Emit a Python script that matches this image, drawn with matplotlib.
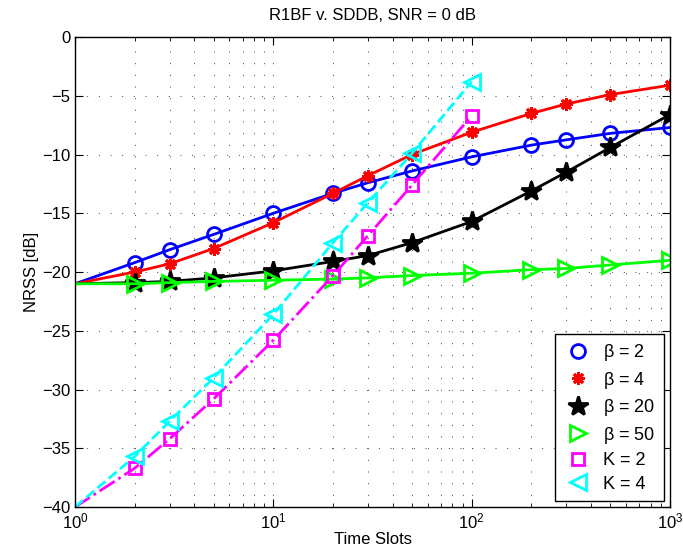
import numpy as np
import matplotlib.pyplot as plt
from matplotlib.ticker import LogLocator, NullFormatter

plt.rcParams['font.family'] = ['Liberation Sans', 'DejaVu Sans']

# time slots where markers sit
slots_beta = [2, 3, 5, 10, 20, 30, 50, 100, 200, 300, 500, 1000]
slots_k = [2, 3, 5, 10, 20, 30, 50, 100]

# NRSS [dB]
beta2 = [-19.2, -18.1, -16.8, -15.0, -13.3, -12.4, -11.4, -10.2, -9.2, -8.75, -8.2, -7.7]
beta4 = [-20.0, -19.3, -18.0, -15.8, -13.3, -11.8, -10.0, -8.1, -6.5, -5.7, -4.9, -4.1]
beta20 = [-20.9, -20.8, -20.5, -19.9, -19.1, -18.6, -17.5, -15.7, -13.1, -11.5, -9.4, -6.6]
beta50 = [-21.0, -20.9, -20.8, -20.7, -20.6, -20.5, -20.3, -20.1, -19.8, -19.7, -19.4, -19.0]
k2 = [-36.7, -34.2, -30.8, -25.8, -20.3, -16.9, -12.6, -6.7]
k4 = [-35.7, -32.7, -29.0, -23.6, -17.5, -14.1, -9.9, -3.8]

# all curves start at one time slot
start_beta = -21.0
start_k = -40.0

series = [
    (slots_beta, beta2, start_beta, '#0000ff', '-', 'o', dict(ms=10, mfc='none'), r'$\mathregular{\beta}$ = 2'),
    (slots_beta, beta4, start_beta, '#ff0000', '-', (8, 2, 0), dict(ms=9), r'$\mathregular{\beta}$ = 4'),
    (slots_beta, beta20, start_beta, 'k', '-', '*', dict(ms=15, mfc='k'), r'$\mathregular{\beta}$ = 20'),
    (slots_beta, beta50, start_beta, '#00ff00', '-', '>', dict(ms=11, mfc='none'), r'$\mathregular{\beta}$ = 50'),
    (slots_k, k2, start_k, '#ff00ff', '-.', 's', dict(ms=8, mfc='none'), 'K = 2'),
    (slots_k, k4, start_k, '#00ffff', '--', '<', dict(ms=11, mfc='none'), 'K = 4'),
]

fig = plt.figure(figsize=(6.83, 5.6), dpi=100)
ax = fig.add_axes([0.1098, 0.0946, 0.8712, 0.8393])

for x, y, y0, col, ls, mk, mkw, lab in series:
    ax.plot([1] + x, [y0] + y, color=col, ls=ls, lw=2)
    ax.plot(x, y, ls='none', marker=mk, color=col, mec=col, mew=2, label=lab, **mkw)

ax.set_xscale('log')
ax.set_xlim(1, 1000)
ax.set_ylim(-40, 0)
ax.set_yticks(np.arange(-40, 1, 5))
ax.xaxis.set_minor_locator(LogLocator(base=10, subs=np.arange(2, 10)))
ax.xaxis.set_minor_formatter(NullFormatter())

grid_kw = dict(ls=(0, (1, 11)), color='0.25', lw=0.7)
ax.grid(True, which='major', **grid_kw)
ax.grid(True, which='minor', axis='x', **grid_kw)
ax.tick_params(which='both', direction='in', top=True, right=True, labelsize=12)
ax.tick_params(which='major', length=6)
ax.tick_params(which='minor', length=3)
for s in ax.spines.values():
    s.set_linewidth(1)

ax.set_xlabel('Time Slots', fontsize=12, labelpad=0)
ax.set_ylabel('NRSS [dB]', fontsize=12, labelpad=2)
ax.set_title('R1BF v. SDDB, SNR = 0 dB', fontsize=12, pad=12)

leg = ax.legend(loc='lower right', fontsize=13, fancybox=False, edgecolor='k',
                framealpha=1, handletextpad=0.6, labelspacing=0.36,
                borderaxespad=0.35, handlelength=1.6, borderpad=0.45)
leg.get_frame().set_linewidth(1)

fig.savefig('out.png', dpi=100)
